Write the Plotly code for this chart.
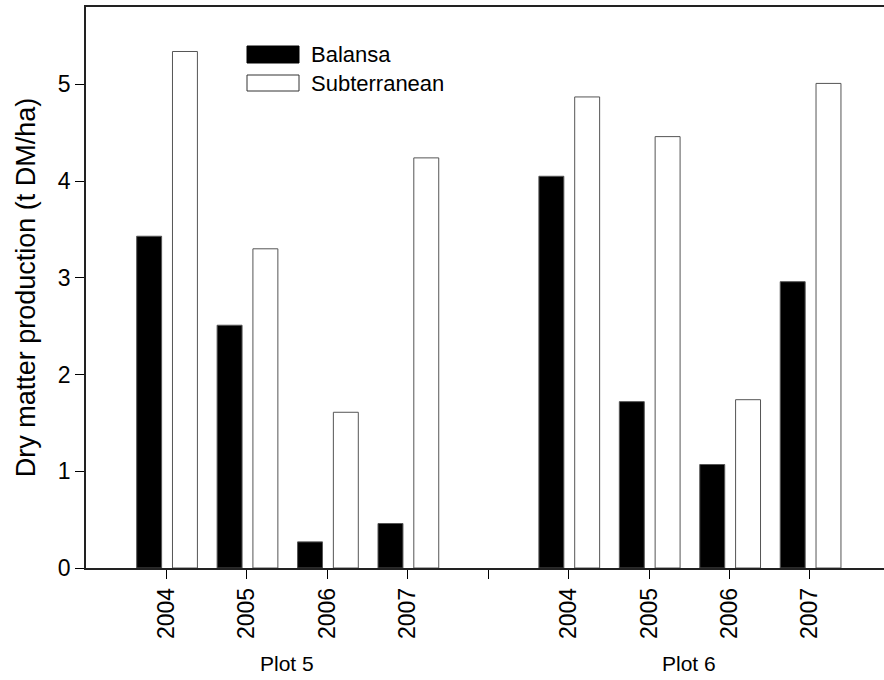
import plotly.graph_objects as go

# ---- data ----
plots = ["Plot 5", "Plot 6"]
years = ["2004", "2005", "2006", "2007"]
balansa = [3.43, 2.51, 0.27, 0.46, 4.05, 1.72, 1.07, 2.96]
subterranean = [5.34, 3.30, 1.61, 4.24, 4.87, 4.46, 1.74, 5.01]
y_ticks = [0, 1, 2, 3, 4, 5]

# positions: each plot block of 4 years, one empty slot between blocks
gap = 1
positions = []
tick_text = []
for p_i, _ in enumerate(plots):
    for y_i, yr in enumerate(years):
        positions.append(p_i * (len(years) + gap) + y_i)
        tick_text.append(yr)
tick_vals = positions[:len(years)] + [len(years)] + positions[len(years):]
tick_lbls = tick_text[:len(years)] + [""] + tick_text[len(years):]

FONT = "Liberation Sans, Arial, sans-serif"
W, H = 884, 680
L, R, T, B = 86, 0, 7, 112
pw, ph = W - L - R, H - T - B

def px_x(v):
    return (v - L) / pw

def px_y(v):
    return (H - B - v) / ph

fig = go.Figure()
fig.add_trace(go.Bar(
    x=positions, y=balansa, name="Balansa",
    width=0.31, offset=-0.37,
    marker=dict(color="black", line=dict(color="#555555", width=1)),
    showlegend=False,
))
fig.add_trace(go.Bar(
    x=positions, y=subterranean, name="Subterranean",
    width=0.31, offset=0.075,
    marker=dict(color="white", line=dict(color="#555555", width=1)),
    showlegend=False,
))

# legend drawn as wide swatches
shapes = [
    dict(type="rect", xref="paper", yref="paper",
         x0=px_x(247), x1=px_x(299), y0=px_y(63), y1=px_y(46),
         fillcolor="black", line=dict(color="black", width=1)),
    dict(type="rect", xref="paper", yref="paper",
         x0=px_x(247), x1=px_x(299), y0=px_y(91), y1=px_y(75),
         fillcolor="white", line=dict(color="#333333", width=1)),
]
annotations = [
    dict(text="Balansa", xref="paper", yref="paper", x=px_x(309), y=px_y(54.5),
         xanchor="left", yanchor="middle", showarrow=False,
         font=dict(size=22, color="black", family=FONT)),
    dict(text="Subterranean", xref="paper", yref="paper", x=px_x(309), y=px_y(83),
         xanchor="left", yanchor="middle", showarrow=False,
         font=dict(size=22, color="black", family=FONT)),
]
# group labels
for p_i, name in enumerate(plots):
    block = positions[p_i * len(years):(p_i + 1) * len(years)]
    annotations.append(dict(
        text=name, xref="x", yref="paper", x=(block[0] + block[-1]) / 2,
        y=px_y(663), xanchor="center", yanchor="middle", showarrow=False,
        font=dict(size=21, color="black", family=FONT)))

fig.update_layout(
    width=W, height=H,
    margin=dict(l=L, r=R, t=T, b=B),
    paper_bgcolor="white", plot_bgcolor="white",
    barmode="overlay",
    font=dict(family=FONT, size=23, color="black"),
    shapes=shapes, annotations=annotations,
    xaxis=dict(
        range=[-1, 8.92], tickmode="array", tickvals=tick_vals, ticktext=tick_lbls,
        tickangle=-90, ticks="outside", ticklen=9, tickcolor="black", tickwidth=1,
        showline=True, linecolor="#222222", linewidth=1.5, mirror=True,
        showgrid=False, zeroline=False, tickfont=dict(size=23),
    ),
    yaxis=dict(
        range=[0, 5.8], tickmode="array", tickvals=y_ticks,
        ticks="outside", ticklen=9, tickcolor="black", tickwidth=1,
        showline=True, linecolor="#222222", linewidth=1.5,
        showgrid=False, zeroline=False, tickfont=dict(size=23),
        title=dict(text="Dry matter production (t DM/ha)", font=dict(size=27), standoff=14),
    ),
)

fig.write_html("out.html", config={"displayModeBar": False},
               post_script="document.body.style.margin='0';")
